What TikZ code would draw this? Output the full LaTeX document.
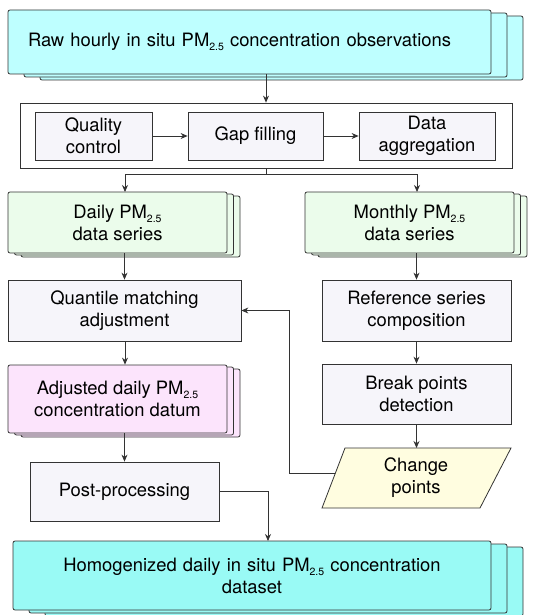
\documentclass[tikz,border=0pt]{standalone}
\usepackage{fontspec}
\setmainfont{TeX Gyre Heros}
\usetikzlibrary{arrows.meta,shadows}

\definecolor{linegray}{RGB}{51,51,51}
\definecolor{rawcyan}{RGB}{190,255,255}
\definecolor{homcyan}{RGB}{153,250,245}
\definecolor{seriesgreen}{RGB}{235,252,235}
\definecolor{adjpink}{RGB}{252,228,252}
\definecolor{procgray}{RGB}{246,245,250}
\definecolor{chgyellow}{RGB}{255,253,224}

\newcommand{\pmtf}{PM\raisebox{-0.45ex}{\fontsize{10.5}{10.5}\selectfont 2.5}}

\tikzset{
  proc/.style={draw=linegray, fill=procgray, line width=0.8pt, align=center, inner sep=0pt},
  bigstack/.style={proc, rounded corners=2pt, double copy shadow={shadow xshift=16pt, shadow yshift=-3pt}},
  smallstack/.style={proc, rounded corners=2pt, double copy shadow={shadow xshift=6.5pt, shadow yshift=-2pt}},
  arr/.style={draw=linegray, line width=0.8pt, -{Stealth[length=7pt,width=6pt]}},
}

\begin{document}
\begin{tikzpicture}[x=1pt,y=1pt,yscale=-1,font=\fontsize{18.4}{22}\selectfont]
\useasboundingbox (0,0) rectangle (539,615);
% Raw observations
\node [bigstack, fill=rawcyan, minimum width=483, minimum height=64, text width=443, inner xsep=20, align=left] (raw) at (249.5,42) {Raw hourly in situ \pmtf{} concentration observations};
% Preprocessing
\node [proc, fill=white, minimum width=492, minimum height=65] (prep) at (266,135.5) {};
\node [proc, minimum width=117, minimum height=48] (qc) at (93.5,136) {Quality\\control};
\node [proc, minimum width=135, minimum height=48] (gap) at (255.5,136) {Gap filling};
\node [proc, minimum width=136, minimum height=48] (agg) at (427,136) {Data\\aggregation};
% Data series
\node [smallstack, fill=seriesgreen, minimum width=219, minimum height=61] (daily) at (117.5,222.5) {Daily \pmtf\\data series};
\node [smallstack, fill=seriesgreen, minimum width=209, minimum height=61] (monthly) at (409.5,222.5) {Monthly \pmtf\\data series};
% Left branch
\node [proc, minimum width=233, minimum height=61] (quant) at (124.5,310.5) {Quantile matching\\adjustment};
\node [smallstack, fill=adjpink, minimum width=219, minimum height=68] (adj) at (117.5,399) {Adjusted daily \pmtf\\concentration datum};
\node [proc, minimum width=189, minimum height=59] (post) at (124.5,491.5) {Post-processing};
% Right branch
\node [proc, minimum width=189, minimum height=61] (refs) at (416.5,310.5) {Reference series\\composition};
\node [proc, minimum width=189, minimum height=60] (brk) at (416.5,394) {Break points\\detection};
\draw [draw=linegray, fill=chgyellow, line width=0.8pt] (345,448) -- (511,448) -- (480,508) -- (322,508) -- cycle;
\node [align=center] (chg) at (416,478) {Change\\points};
% Homogenized dataset
\node [bigstack, fill=homcyan, minimum width=478, minimum height=69, text width=440] (final) at (252,575.5) {Homogenized daily in situ \pmtf{} concentration\hspace*{22pt}\\dataset\hspace*{22pt}};

\coordinate (split) at (266,174);
\coordinate (dailyin) at (125,192);
\coordinate (monthin) at (417,192);
\coordinate (chgtop) at (416.5,448);
\coordinate (chgin) at (335.4,473);
\coordinate (fb) at (289,473);
\coordinate (finin) at (268,541);

\draw [arr] (raw.south -| prep.north) -- (prep.north);
\draw [arr] (qc) -- (gap);
\draw [arr] (gap) -- (agg);
\draw [draw=linegray, line width=0.8pt] (prep.south) -- (split);
\draw [arr] (split) -| (dailyin);
\draw [arr] (split) -| (monthin);
\draw [arr] (daily.south -| quant.north) -- (quant.north);
\draw [arr] (monthly.south -| refs.north) -- (refs.north);
\draw [arr] (quant.south -| dailyin) -- (adj.north -| dailyin);
\draw [arr] (adj.south -| post.north) -- (post.north);
\draw [arr] (refs) -- (brk);
\draw [arr] (brk.south) -- (chgtop);
\draw [arr] (chgin) -- (fb) |- (quant.east);
\draw [arr] (post.east) -| (finin);
\end{tikzpicture}
\end{document}
